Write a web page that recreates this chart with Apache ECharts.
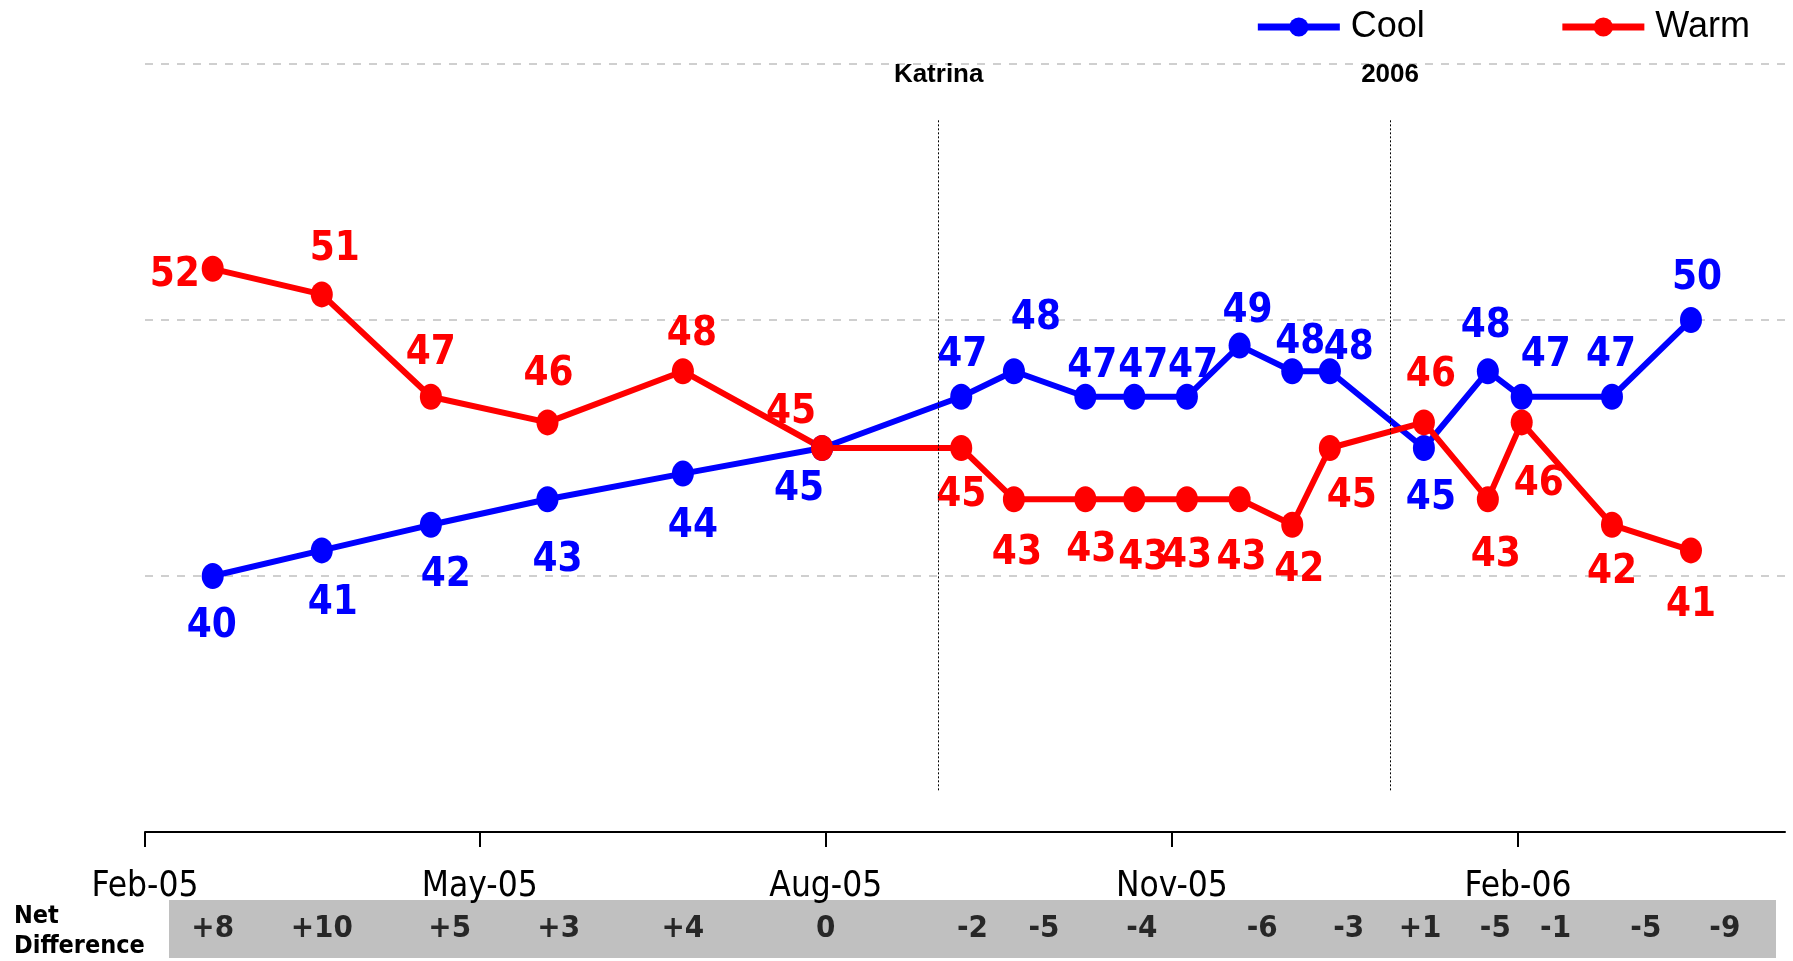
<!DOCTYPE html>
<html>
<head>
<meta charset="utf-8">
<title>Cool / Warm</title>
<script src="https://cdn.jsdelivr.net/npm/echarts@6/dist/echarts.min.js"></script>
<style>
  html, body { margin: 0; padding: 0; background: #fff; }
  #main { width: 1793px; height: 961px; }
</style>
</head>
<body>
<div id="main"></div>
<script>
// ---- data ----
var surveyDates = ['2005-02-19', '2005-03-20', '2005-04-18', '2005-05-19', '2005-06-24', '2005-07-31',
                   '2005-09-06', '2005-09-20', '2005-10-09', '2005-10-22', '2005-11-05', '2005-11-19',
                   '2005-12-03', '2005-12-13', '2006-01-07', '2006-01-24', '2006-02-02', '2006-02-26', '2006-03-19'];
var coolValues = [40, 41, 42, 43, 44, 45, 47, 48, 47, 47, 47, 49, 48, 48, 45, 48, 47, 47, 50];
var warmValues = [52, 51, 47, 46, 48, 45, 45, 43, 43, 43, 43, 43, 42, 45, 46, 43, 46, 42, 41];

var netDates = ['2005-02-19', '2005-03-20', '2005-04-23', '2005-05-22', '2005-06-24', '2005-08-01',
                '2005-09-09', '2005-09-28', '2005-10-24', '2005-11-25', '2005-12-18', '2006-01-06',
                '2006-01-26', '2006-02-11', '2006-03-07', '2006-03-28'];
var netValues = [8, 10, 5, 3, 4, 0, -2, -5, -4, -6, -3, 1, -5, -1, -5, -9];

var tickDates = ['2005-02-01', '2005-05-01', '2005-08-01', '2005-11-01', '2006-02-01'];
var eventDates = ['2005-08-31', '2005-12-29'];
var eventNames = ['Katrina', '2006'];

var axisStart = '2005-02-01';
var axisEnd = '2006-04-13';
var monthNames = ['Jan','Feb','Mar','Apr','May','Jun','Jul','Aug','Sep','Oct','Nov','Dec'];

// label placement [dx, dy] relative to each point
var coolLabelOffset = [[-1, 51], [11, 53], [15, 51], [10, 61], [10, 53], [-23, 42], [1, -41], [22, -53],
                       [7, -30], [9, -30], [6, -30], [8, -34], [8, -29], [19, -23], [7, 51], [-2, -45],
                       [24, -41], [-1, -41], [6, -41]];
var warmLabelOffset = [[-38, 7], [13, -45], [0, -43], [1, -48], [9, -37], [-31, -35], [0, 48], [3, 54],
                       [6, 51], [9, 59], [0, 57], [2, 59], [7, 46], [22, 49], [7, -47], [8, 56],
                       [17, 62], [0, 48], [0, 55]];

function ts(s) {
    var p = s.split('-');
    return new Date(+p[0], +p[1] - 1, +p[2]).getTime();
}

var narrow = '"Liberation Sans Narrow", "Arial Narrow", "DejaVu Sans Condensed", sans-serif';
var plain = '"Liberation Sans", Arial, sans-serif';

function buildLine(values, offsets) {
    return values.map(function (v, i) {
        return {
            value: [ts(surveyDates[i]), v],
            label: { offset: offsets[i] }
        };
    });
}

var chart = echarts.init(document.getElementById('main'));

var option = {
    animation: false,
    color: ['#0000ff', '#ff0000'],
    legend: {
        right: 38,
        top: 4,
        itemWidth: 82,
        itemHeight: 24,
        itemGap: 134,
        lineStyle: { width: 7 },
        textStyle: { fontFamily: plain, fontSize: 36, color: '#000', padding: [0, 0, 0, 6] },
        data: ['Cool', 'Warm']
    },
    grid: [
        { left: 145, right: 8, top: 64, bottom: 129 },
        { left: 145, right: 8, top: 900, height: 58 }
    ],
    graphic: [
        { type: 'rect', z: 0, shape: { x: 169, y: 900, width: 1607, height: 58 }, style: { fill: '#c0c0c0' } },
        { type: 'text', left: 14, top: 901, style: { text: 'Net\nDifference', fontFamily: narrow, fontWeight: 'bold', fontSize: 25, lineHeight: 30, fill: '#000' } }
    ],
    xAxis: [
        {
            type: 'value',
            gridIndex: 0,
            min: ts(axisStart),
            max: ts(axisEnd),
            axisLine: { lineStyle: { color: '#000', width: 2 } },
            axisTick: { show: true, length: 15, lineStyle: { color: '#000', width: 2 }, customValues: tickDates.map(ts) },
            axisLabel: {
                customValues: tickDates.map(ts),
                margin: 37,
                fontFamily: narrow,
                fontSize: 35,
                color: '#000',
                formatter: function (val) {
                    var d = new Date(val);
                    return monthNames[d.getMonth()] + '-' + String(d.getFullYear()).slice(2);
                }
            },
            splitLine: { show: false }
        },
        {
            type: 'value',
            gridIndex: 1,
            min: ts(axisStart),
            max: ts(axisEnd),
            show: false
        }
    ],
    yAxis: [
        {
            type: 'value',
            gridIndex: 0,
            min: 30,
            max: 60,
            interval: 10,
            axisLine: { show: false },
            axisTick: { show: false },
            axisLabel: { show: false },
            splitLine: { lineStyle: { color: '#c0c0c0', type: [8, 8], width: 1.5 } }
        },
        { type: 'value', gridIndex: 1, min: 0, max: 1, show: false }
    ],
    series: [
        {
            name: 'Cool',
            type: 'line',
            symbol: 'circle',
            symbolSize: [22, 26],
            lineStyle: { width: 6 },
            label: {
                show: true,
                position: 'inside',
                color: '#0000ff',
                fontFamily: narrow,
                fontWeight: 'bold',
                fontSize: 40,
                formatter: function (p) { return p.value[1]; }
            },
            data: buildLine(coolValues, coolLabelOffset),
            markLine: {
                silent: true,
                symbol: 'none',
                lineStyle: { color: '#000', type: [2, 2], width: 1 },
                label: {
                    show: true,
                    position: 'start',
                    distance: 32,
                    color: '#000',
                    fontFamily: plain,
                    fontWeight: 'bold',
                    fontSize: 26,
                    formatter: function (p) { return p.name; }
                },
                data: eventDates.map(function (d, i) {
                    return [
                        { name: eventNames[i], coord: [ts(d), 57.8] },
                        { coord: [ts(d), 31.6] }
                    ];
                })
            }
        },
        {
            name: 'Warm',
            type: 'line',
            symbol: 'circle',
            symbolSize: [22, 26],
            lineStyle: { width: 6 },
            label: {
                show: true,
                position: 'inside',
                color: '#ff0000',
                fontFamily: narrow,
                fontWeight: 'bold',
                fontSize: 40,
                formatter: function (p) { return p.value[1]; }
            },
            data: buildLine(warmValues, warmLabelOffset)
        },
        {
            name: 'Net Difference',
            type: 'scatter',
            xAxisIndex: 1,
            yAxisIndex: 1,
            symbolSize: 0,
            z: 5,
            label: {
                show: true,
                position: 'inside',
                color: '#000',
                fontFamily: narrow,
                fontWeight: 'bold',
                fontSize: 31,
                formatter: function (p) {
                    var v = p.value[2];
                    return v > 0 ? '+' + v : String(v);
                }
            },
            data: netDates.map(function (d, i) { return [ts(d), 0.5, netValues[i]]; })
        }
    ]
};

chart.setOption(option);

window.addEventListener('resize', function () {
    chart.resize();
});
</script>
</body>
</html>
